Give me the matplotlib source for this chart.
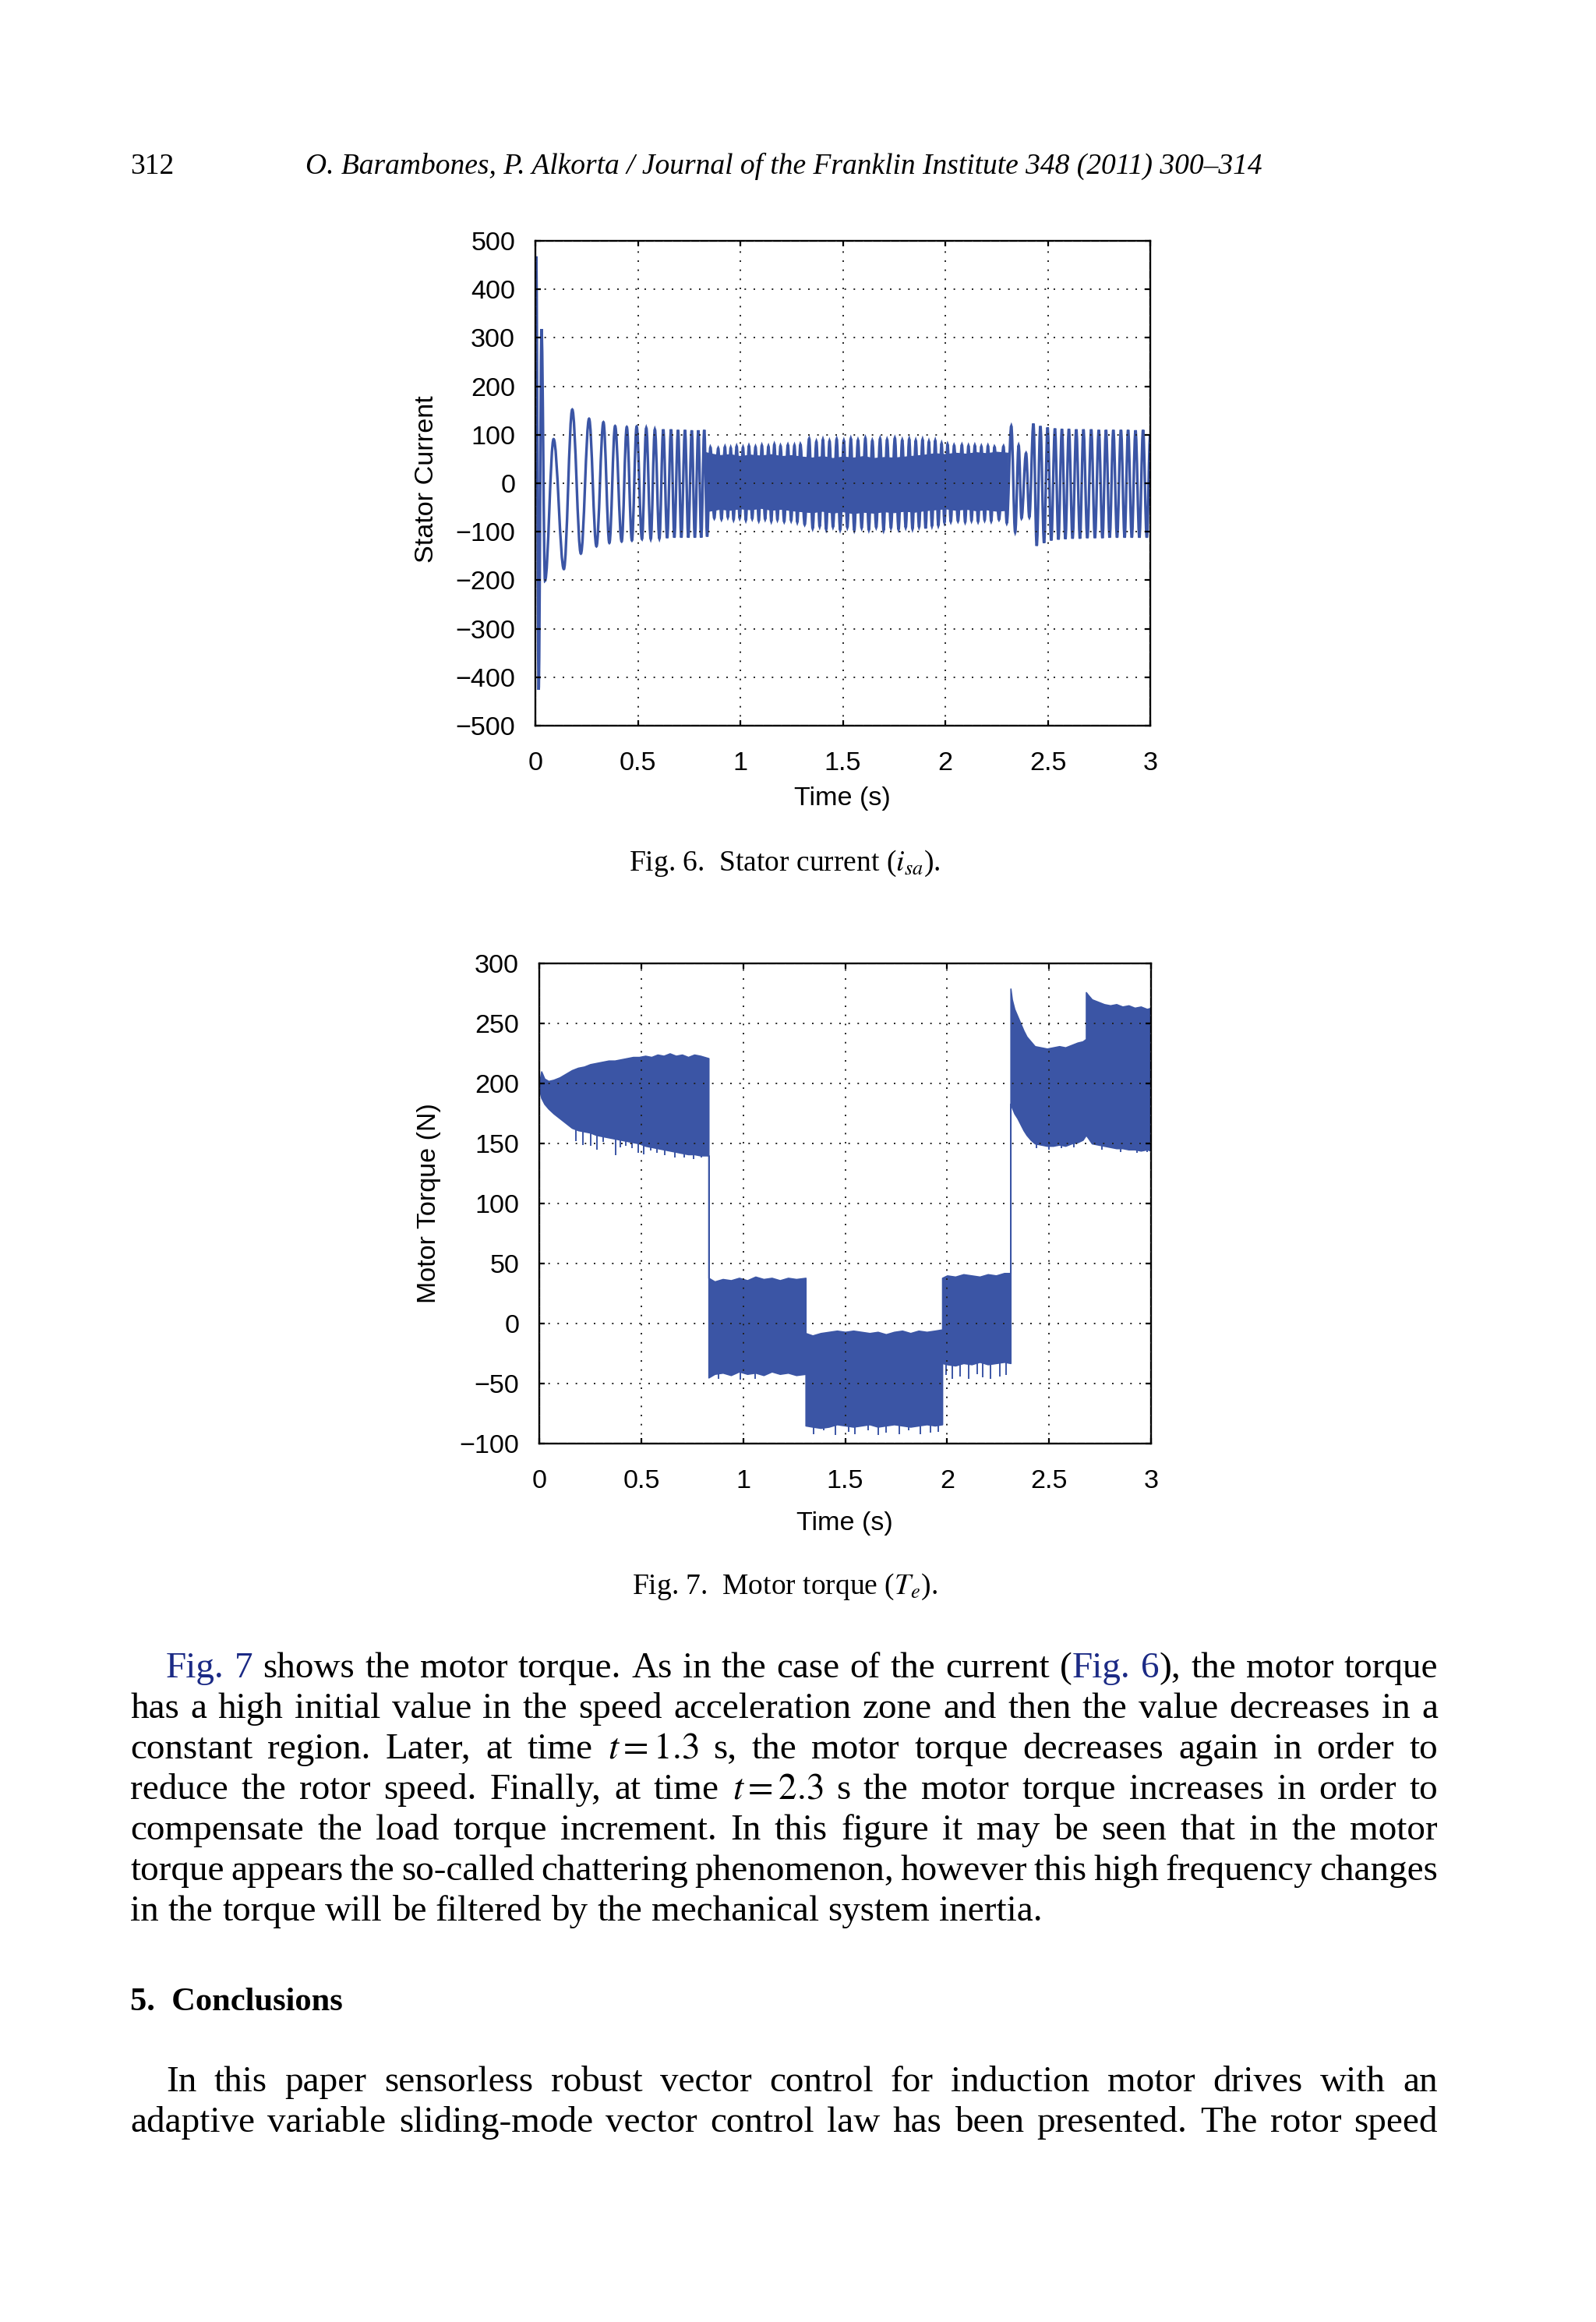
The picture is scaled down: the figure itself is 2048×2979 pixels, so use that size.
import re
import matplotlib
matplotlib.use('Agg')
import matplotlib.pyplot as plt
from matplotlib.path import Path
from matplotlib.patches import PathPatch
from matplotlib.transforms import IdentityTransform

W, H = 2048, 2979
DPI = 200

plt.rcParams['font.family'] = 'Liberation Sans'
plt.rcParams['mathtext.fontset'] = 'stix'
plt.rcParams['axes.unicode_minus'] = True

BLUE = '#3b55a5'
LINK = '#1b2a85'
SERIF = 'Liberation Serif'

# ---------------- Fig. 6 : stator current (peaks / troughs)
cur_t = [0.000, 0.004, 0.016, 0.030, 0.047, 0.089, 0.139, 0.180, 0.222, 0.262,
         0.298, 0.332, 0.361, 0.389, 0.421, 0.446, 0.471, 0.494, 0.520, 0.541,
         0.563, 0.583, 0.605, 0.624, 0.643, 0.662, 0.678, 0.696, 0.712, 0.730,
         0.746, 0.763, 0.778, 0.795, 0.809, 0.824, 0.838,
         0.854, 0.873, 0.892, 0.908, 0.925, 0.939, 0.953, 0.967, 0.982, 0.997,
         1.013, 1.027, 1.042, 1.058, 1.074, 1.090, 1.105, 1.121, 1.137, 1.151,
         1.166, 1.181, 1.196, 1.214, 1.232, 1.248, 1.264, 1.278, 1.293, 1.314,
         1.336, 1.353, 1.371, 1.387, 1.403, 1.419, 1.435, 1.452, 1.470, 1.487,
         1.505, 1.522, 1.539, 1.556, 1.574, 1.592, 1.610, 1.627, 1.644, 1.663,
         1.682, 1.699, 1.716, 1.735, 1.754, 1.772, 1.790, 1.807, 1.824, 1.840,
         1.856, 1.872, 1.889, 1.904, 1.920, 1.935, 1.951, 1.966, 1.982, 1.996,
         2.011, 2.027, 2.043, 2.062, 2.081, 2.097, 2.113, 2.128, 2.144, 2.160,
         2.176, 2.192, 2.208, 2.224, 2.240, 2.262, 2.284, 2.300,
         2.322, 2.341, 2.358, 2.372, 2.394, 2.410, 2.430, 2.446, 2.464, 2.482,
         2.499, 2.517, 2.535, 2.552, 2.569, 2.586, 2.603, 2.621, 2.639, 2.657,
         2.674, 2.693, 2.712, 2.730, 2.749, 2.767, 2.784, 2.802, 2.820, 2.838,
         2.857, 2.875, 2.892, 2.910, 2.928, 2.947, 2.965, 2.983, 3.000]
cur_v = [0, 468, -426, 318, -201, 91, -177, 152, -145, 133,
         -130, 126, -123, 118, -120, 116, -118, 117, -115, 114,
         -115, 111, -114, 111, -113, 111, -112, 110, -112, 110,
         -112, 109, -112, 109, -112, 110, -110,
         74, -72, 72, -74, 75, -70, 73, -75, 76, -72,
         74, -76, 77, -73, 75, -77, 78, -74, 76, -78,
         80, -75, 77, -79, 79, -77, 78, -80, 80, -85,
         92, -93, 86, -89, 90, -95, 87, -90, 91, -96,
         88, -91, 92, -97, 89, -92, 93, -96, 88, -91,
         92, -97, 90, -92, 93, -95, 89, -91, 91, -94,
         88, -90, 90, -93, 86, -88, 88, -87, 82, -81,
         80, -79, 78, -78, 79, -80, 77, -77, 78, -79,
         76, -76, 77, -78, 75, -75, 76, -82,
         118, -101, 78, -72, 62, -70, 123, -129, 118, -123,
         115, -118, 113, -116, 112, -115, 112, -114, 111, -114,
         111, -113, 111, -113, 110, -113, 110, -112, 110, -112,
         110, -112, 110, -112, 109, -112, 110, -112, 100]

# dense chattering core between 0.83 s and 2.3 s
band_t = [0.832, 0.86, 0.90, 0.95, 1.00, 1.05, 1.10, 1.15, 1.20, 1.25, 1.30,
          1.35, 1.40, 1.45, 1.50, 1.55, 1.60, 1.65, 1.70, 1.75, 1.80, 1.85,
          1.90, 1.95, 2.00, 2.05, 2.10, 2.15, 2.20, 2.25, 2.305]
band_hi = [64, 61, 58, 60, 56, 59, 57, 60, 56, 58, 55, 53, 56, 52, 55, 53,
           56, 52, 54, 53, 55, 57, 59, 62, 60, 63, 61, 64, 62, 65, 63]
band_lo = [-58, -56, -53, -55, -52, -54, -51, -55, -53, -56, -58, -60, -57,
           -61, -58, -62, -59, -61, -58, -60, -57, -59, -56, -54, -52, -55,
           -53, -56, -54, -57, -55]

# ---------------- Fig. 7 : motor torque band (upper / lower envelope)
tq_t = [0.000, 0.010, 0.025, 0.045, 0.070, 0.100, 0.130, 0.160, 0.190, 0.220,
        0.250, 0.280, 0.310, 0.340, 0.370, 0.400, 0.430, 0.460, 0.490, 0.520,
        0.550, 0.580, 0.610, 0.640, 0.670, 0.700, 0.730, 0.760, 0.790, 0.830,
        0.830, 0.860, 0.900, 0.940, 0.980, 1.020, 1.060, 1.100, 1.140, 1.180,
        1.220, 1.260, 1.306,
        1.306, 1.340, 1.380, 1.420, 1.460, 1.500, 1.540, 1.580, 1.620, 1.660,
        1.700, 1.740, 1.780, 1.820, 1.860, 1.900, 1.940, 1.976,
        1.976, 2.000, 2.040, 2.080, 2.120, 2.160, 2.200, 2.240, 2.280, 2.311,
        2.311, 2.318, 2.330, 2.345, 2.360, 2.375, 2.390, 2.410, 2.430, 2.460,
        2.490, 2.520, 2.550, 2.580, 2.610, 2.640, 2.665, 2.681, 2.681, 2.690,
        2.710, 2.740, 2.770, 2.800, 2.830, 2.860, 2.890, 2.920, 2.950, 2.980,
        3.000]
tq_hi = [200, 210, 204, 202, 203, 205, 208, 211, 213, 214,
         216, 217, 218, 219, 219, 220, 221, 222, 222, 223,
         222, 224, 223, 225, 223, 224, 222, 224, 223, 221,
         38, 35, 37, 36, 38, 36, 39, 37, 38, 36,
         38, 37, 38,
         -8, -10, -8, -7, -6, -7, -6, -7, -8, -7,
         -9, -7, -6, -8, -6, -7, -6, -5,
         38, 40, 39, 41, 40, 39, 41, 40, 42, 42,
         279, 270, 262, 256, 250, 244, 239, 235, 231, 230,
         229, 230, 231, 230, 232, 234, 235, 237, 276, 274,
         270, 268, 266, 265, 266, 264, 265, 263, 264, 262,
         263]
tq_lo = [195, 188, 183, 179, 175, 171, 167, 163, 161, 160,
         159, 157, 156, 155, 154, 153, 152, 151, 150, 148,
         147, 146, 145, 144, 143, 142, 141, 141, 140, 140,
         -45, -42, -41, -43, -40, -42, -41, -43, -40, -42,
         -41, -43, -42,
         -85, -86, -87, -86, -84, -85, -86, -85, -84, -86,
         -85, -84, -85, -86, -85, -84, -85, -84,
         -33, -34, -35, -33, -34, -32, -34, -33, -32, -33,
         183, 180, 175, 171, 166, 161, 157, 153, 150, 149,
         148, 148, 149, 148, 150, 151, 153, 157, 157, 155,
         150, 149, 148, 147, 146, 146, 145, 145, 144, 145,
         144]

# chattering spikes hanging under the band (tip values)
spk_t = [0.181, 0.213, 0.251, 0.283, 0.315, 0.373, 0.398, 0.424, 0.455, 0.487,
         0.513, 0.545, 0.577, 0.615, 0.666, 0.711, 0.755, 0.793,
         0.880, 0.987, 1.060,
         1.344, 1.395, 1.453, 1.517, 1.549, 1.612, 1.663, 1.702, 1.766, 1.810,
         1.868, 1.919, 1.958,
         1.995, 2.027, 2.065, 2.104, 2.148, 2.173, 2.212, 2.257, 2.289,
         2.440, 2.500, 2.560, 2.620, 2.760, 2.850, 2.930, 2.980]
spk_v = [152, 149, 148, 145, 151, 140, 147, 148, 146, 142,
         141, 144, 142, 140, 138, 138, 137, 138,
         -46, -47, -46,
         -92, -89, -93, -90, -92, -89, -93, -91, -92, -89,
         -92, -91, -90,
         -43, -46, -44, -46, -42, -45, -46, -44, -43,
         146, 145, 146, 147, 145, 143, 142, 143]

x_ticks = [0, 0.5, 1, 1.5, 2, 2.5, 3]
x_ticklabels = ['0', '0.5', '1', '1.5', '2', '2.5', '3']
cur_yticks = [-500, -400, -300, -200, -100, 0, 100, 200, 300, 400, 500]
tq_yticks = [-100, -50, 0, 50, 100, 150, 200, 250, 300]


def wave_path(t, v):
    # smooth half-cycles between successive extrema (flat tangent at each one)
    verts = [(t[0], v[0])]
    codes = [Path.MOVETO]
    for i in range(1, len(t)):
        dt = t[i] - t[i - 1]
        verts += [(t[i - 1] + 0.364 * dt, v[i - 1]), (t[i] - 0.364 * dt, v[i]), (t[i], v[i])]
        codes += [Path.CURVE4] * 3
    return Path(verts, codes)


def style_axes(ax, yticks):
    ax.set_xlim(0, 3)
    ax.set_xticks(x_ticks)
    ax.set_xticklabels(x_ticklabels)
    ax.set_yticks(yticks)
    ax.set_ylim(yticks[0], yticks[-1])
    ax.tick_params(direction='in', length=2.6, width=0.8, top=True, right=True,
                   labelsize=12.3, color='black')
    ax.tick_params(axis='x', pad=12)
    ax.tick_params(axis='y', pad=9.3)
    for sp in ax.spines.values():
        sp.set_linewidth(0.85)
    ax.set_axisbelow(False)
    ax.grid(True, color='#222222', linestyle=(0, (1, 5)), linewidth=0.7)


fig = plt.figure(figsize=(W / DPI, H / DPI), dpi=DPI)
fig.patch.set_facecolor('white')

# ---- Fig. 6
ax1 = fig.add_axes([687 / W, 1 - 931 / H, (1476 - 687) / W, (931 - 309) / H])
ax1.fill_between(band_t, band_lo, band_hi, color=BLUE, linewidth=0.4)
ax1.add_patch(PathPatch(wave_path(cur_t, cur_v), fill=False, edgecolor=BLUE, linewidth=1.2))
style_axes(ax1, cur_yticks)

# ---- Fig. 7
ax2 = fig.add_axes([692 / W, 1 - 1852 / H, (1477 - 692) / W, (1852 - 1236) / H])
ax2.fill_between(tq_t, tq_lo, tq_hi, facecolor=BLUE, edgecolor=BLUE, linewidth=0.6)
ax2.vlines(spk_t, spk_v, [v + 25 for v in spk_v], color=BLUE, linewidth=0.7)
style_axes(ax2, tq_yticks)

# ---------------- page text
ident = IdentityTransform()
renderer = fig.canvas.get_renderer()


def txt(x, y, s, **kw):
    return fig.text(x, H - y, s, transform=ident, **kw)


def width_of(t):
    return t.get_window_extent(renderer).width


def fit(x, y, s, target, **kw):
    t = txt(x, y, s, fontsize=10, **kw)
    t.set_fontsize(10 * target / width_of(t))
    return t


# axis labels
txt(548, 615, 'Stator Current', fontsize=12.3, rotation=90, ha='center', va='center')
txt(1081, 1025, 'Time (s)', fontsize=12.3, ha='center', va='center')
txt(550, 1544, 'Motor Torque (N)', fontsize=12.3, rotation=90, ha='center', va='center')
txt(1084, 1955, 'Time (s)', fontsize=12.3, ha='center', va='center')

# running head
hd = fit(392, 223, 'O. Barambones, P. Alkorta / Journal of the Franklin Institute 348 (2011) 300\u2013314',
         1231, family=SERIF, style='italic', va='baseline')
txt(167, 223, '312', fontsize=hd.get_fontsize(), family=SERIF, va='baseline')

# captions
c1 = fit(1007, 1117, 'Fig. 6.  Stator current ($i_{sa}$).', 400, family=SERIF, ha='center', va='baseline')
txt(1007, 2045, 'Fig. 7.  Motor torque ($T_e$).', fontsize=c1.get_fontsize(), family=SERIF,
    ha='center', va='baseline')

# body text, justified word by word
para1 = [
    '{Fig.} {7} shows the motor torque. As in the case of the current ({Fig.} {6}), the motor torque',
    'has a high initial value in the speed acceleration zone and then the value decreases in a',
    'constant region. Later, at time $t=1.3$ s, the motor torque decreases again in order to',
    'reduce the rotor speed. Finally, at time $t=2.3$ s the motor torque increases in order to',
    'compensate the load torque increment. In this figure it may be seen that in the motor',
    'torque appears the so-called chattering phenomenon, however this high frequency changes',
    'in the torque will be filtered by the mechanical system inertia.',
]
para2 = [
    'In this paper sensorless robust vector control for induction motor drives with an',
    'adaptive variable sliding-mode vector control law has been presented. The rotor speed',
]

probe = txt(0, 0, para1[-1], fontsize=10, family=SERIF)
size_body = 10 * 1170 / width_of(probe)
probe.remove()


def parse(tok):
    segs = []
    for part in re.split(r'(\{[^}]*\})', tok):
        if not part:
            continue
        if part.startswith('{'):
            segs.append((part[1:-1], LINK))
        else:
            segs.append((part, 'black'))
    return segs


a1 = txt(0, 0, 'a a', fontsize=size_body, family=SERIF)
a2 = txt(0, 0, 'aa', fontsize=size_body, family=SERIF)
space_w = width_of(a1) - width_of(a2)
a1.remove()
a2.remove()


def body_line(y, x0, x1, line, justify=True):
    items = []
    total = 0
    for w in line.split(' '):
        segs = []
        for s, c in parse(w):
            t = txt(0, y, s, fontsize=size_body, family=SERIF, color=c, va='baseline')
            wd = width_of(t)
            segs.append((t, wd))
            total += wd
        items.append(segs)
    gap = (x1 - x0 - total) / (len(items) - 1) if justify else space_w
    x = x0
    for segs in items:
        for t, wd in segs:
            t.set_x(x)
            x += wd
        x += gap


L, R, IND = 167, 1845, 213
for i, line in enumerate(para1):
    body_line(2152 + 52 * i, IND if i == 0 else L, R, line, justify=i < len(para1) - 1)

fit(L, 2579, '5.  Conclusions', 273, family=SERIF, weight='bold', va='baseline')

for i, line in enumerate(para2):
    body_line(2683 + 52 * i, IND if i == 0 else L, R, line)

fig.savefig('out.png', dpi=DPI, facecolor='white')
